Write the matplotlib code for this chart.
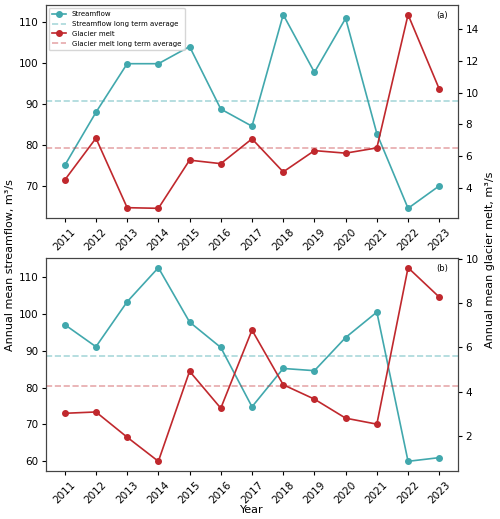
import matplotlib
matplotlib.use("Agg")
import matplotlib.pyplot as plt
import numpy as np

years = np.arange(2011, 2024)

# panel (a)
flow_a = [75.0, 88.0, 99.9, 99.9, 104.1, 88.8, 84.6, 111.9, 97.8, 111.0, 82.8, 64.5, 70.0]
melt_a = [4.5, 7.13, 2.76, 2.72, 5.75, 5.53, 7.09, 5.01, 6.35, 6.19, 6.52, 14.9, 10.22]
flow_avg_a = 90.7
melt_avg_a = 6.54

# panel (b)
flow_b = [97.1, 91.1, 103.3, 112.55, 97.8, 90.9, 74.8, 85.2, 84.6, 93.6, 100.5, 60.0, 61.0]
melt_b = [3.02, 3.08, 1.94, 0.85, 4.92, 3.25, 6.78, 4.31, 3.66, 2.80, 2.53, 9.6, 8.27]
flow_avg_b = 88.7
melt_avg_b = 4.24

teal = "#41a8ad"
red = "#c0282d"
spine = "#444444"

fig = plt.figure(figsize=(5.0, 5.19), dpi=100)
ax_a = fig.add_axes([46/500, 1 - 218/519, 412/500, 213/519])
ax_b = fig.add_axes([46/500, 1 - 471/519, 412/500, 213/519])


def draw_panel(ax, flow, melt, flow_avg, melt_avg, tag, legend=False):
    l1, = ax.plot(years, flow, color=teal, marker="o", ms=4, lw=1.2, label="Streamflow")
    l2 = ax.axhline(flow_avg, color=teal, ls="--", lw=1.2, alpha=0.45,
                    label="Streamflow long term average")
    ax2 = ax.twinx()
    l3, = ax2.plot(years, melt, color=red, marker="o", ms=4, lw=1.2, label="Glacier melt")
    l4 = ax2.axhline(melt_avg, color=red, ls="--", lw=1.2, alpha=0.4,
                     label="Glacier melt long term average")
    ax.set_xticks(years)
    ax.set_xticklabels([str(y) for y in years], rotation=45, fontsize=7.5)
    ax.tick_params(axis="y", labelsize=7.5, length=3, pad=2.5)
    ax.tick_params(axis="x", length=3, pad=3)
    ax2.tick_params(axis="y", labelsize=7.5, length=3, pad=2.5)
    for a in (ax, ax2):
        for s in a.spines.values():
            s.set_color(spine)
    ax.text(0.975, 0.97, tag, transform=ax.transAxes, ha="right", va="top", fontsize=6)
    if legend:
        ax.legend(handles=[l1, l2, l3, l4], loc="upper left", fontsize=5,
                  handlelength=2.0, borderpad=0.5, labelspacing=0.55,
                  bbox_to_anchor=(0.0, 1.0), borderaxespad=0.4)
    return ax2


draw_panel(ax_a, flow_a, melt_a, flow_avg_a, melt_avg_a, "(a)", legend=True)
draw_panel(ax_b, flow_b, melt_b, flow_avg_b, melt_avg_b, "(b)")

fig.text(252/500, 1 - 510/519, "Year", ha="center", va="center", fontsize=8)
fig.text(0.02, 0.49, "Annual mean streamflow, m³/s", rotation=90, va="center",
         ha="center", fontsize=8)
fig.text(0.98, 0.5, "Annual mean glacier melt, m³/s", rotation=90, va="center",
         ha="center", fontsize=8)

fig.savefig("out.png", dpi=100)
